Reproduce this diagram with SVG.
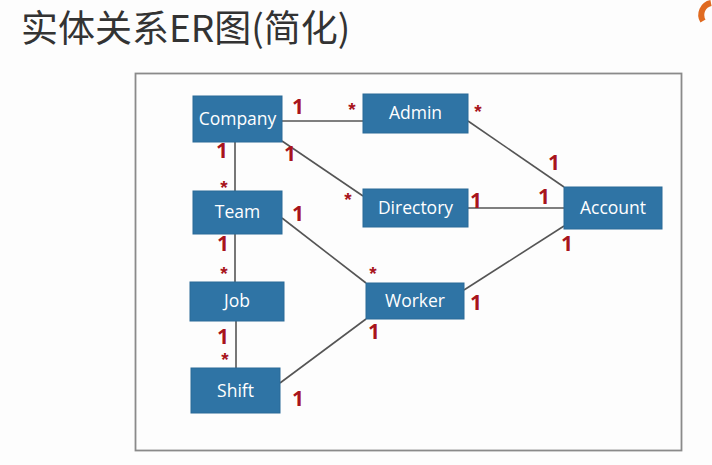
<svg xmlns="http://www.w3.org/2000/svg" width="712" height="465" viewBox="0 0 712 465">
<style>
.n rect{fill:#2f74a5;stroke:#2a6a98;stroke-width:1}
.n text{fill:#fff;font-family:"Open Sans","Noto Sans",sans-serif;font-size:17.5px;text-anchor:middle}
.c line{stroke:#555;stroke-width:1.6}
.one{fill:#a8141c;font-family:"Open Sans","Liberation Sans",sans-serif;font-weight:bold;font-size:21px;text-anchor:middle}
.many{fill:#a8141c;font-family:"Liberation Sans",sans-serif;font-weight:bold;font-size:19px;text-anchor:middle}
</style>
<rect width="712" height="465" fill="#fdfdfd"/>
<text x="21" y="42" font-family="'Noto Sans CJK SC','Noto Sans',sans-serif" font-size="37" fill="#333">实体关系ER图(简化)</text>
<path d="M711 3 A12 12 0 0 0 703 21" fill="none" stroke="#e06a20" stroke-width="6"/>
<rect x="135.5" y="73.5" width="546" height="377" fill="none" stroke="#8a8a8a" stroke-width="1.8"/>
<g class="c">
<line x1="282" y1="121" x2="363" y2="121"/>
<line x1="282" y1="141" x2="363" y2="196"/>
<line x1="235" y1="142" x2="235" y2="191"/>
<line x1="235" y1="234" x2="235" y2="282"/>
<line x1="236" y1="321" x2="236" y2="368"/>
<line x1="282" y1="218" x2="366" y2="283"/>
<line x1="280" y1="383" x2="366" y2="319"/>
<line x1="464" y1="290" x2="564" y2="226"/>
<line x1="468" y1="121" x2="564" y2="187"/>
<line x1="468" y1="208" x2="564" y2="208"/>
</g>
<g id="company" class="n"><rect x="193" y="96" width="89" height="46"/><text x="237.5" y="125">Company</text></g>
<g id="admin" class="n"><rect x="363" y="94" width="105" height="39"/><text x="415.5" y="119">Admin</text></g>
<g id="team" class="n"><rect x="193" y="191" width="89" height="43"/><text x="237.5" y="218">Team</text></g>
<g id="directory" class="n"><rect x="363" y="189" width="105" height="38"/><text x="415.5" y="214">Directory</text></g>
<g id="account" class="n"><rect x="564" y="187" width="98" height="42"/><text x="613" y="214">Account</text></g>
<g id="job" class="n"><rect x="190" y="282" width="94" height="39"/><text x="237" y="307">Job</text></g>
<g id="worker" class="n"><rect x="366" y="283" width="98" height="36"/><text x="415" y="307">Worker</text></g>
<g id="shift" class="n"><rect x="191" y="368" width="89" height="45"/><text x="235.5" y="397">Shift</text></g>
<g id="labels">
<text class="one" x="298" y="114">1</text>
<text class="many" x="352" y="116">*</text>
<text class="one" x="222" y="158">1</text>
<text class="one" x="290" y="161">1</text>
<text class="many" x="224" y="194">*</text>
<text class="many" x="348" y="206">*</text>
<text class="one" x="298" y="221">1</text>
<text class="one" x="223" y="251">1</text>
<text class="many" x="478" y="118">*</text>
<text class="one" x="554" y="170">1</text>
<text class="one" x="476" y="208">1</text>
<text class="one" x="544" y="204">1</text>
<text class="one" x="567" y="251">1</text>
<text class="many" x="224" y="280">*</text>
<text class="many" x="373" y="280">*</text>
<text class="one" x="476" y="310">1</text>
<text class="one" x="374" y="339">1</text>
<text class="one" x="223" y="344">1</text>
<text class="many" x="225" y="366">*</text>
<text class="one" x="298" y="406">1</text>
</g>
</svg>
